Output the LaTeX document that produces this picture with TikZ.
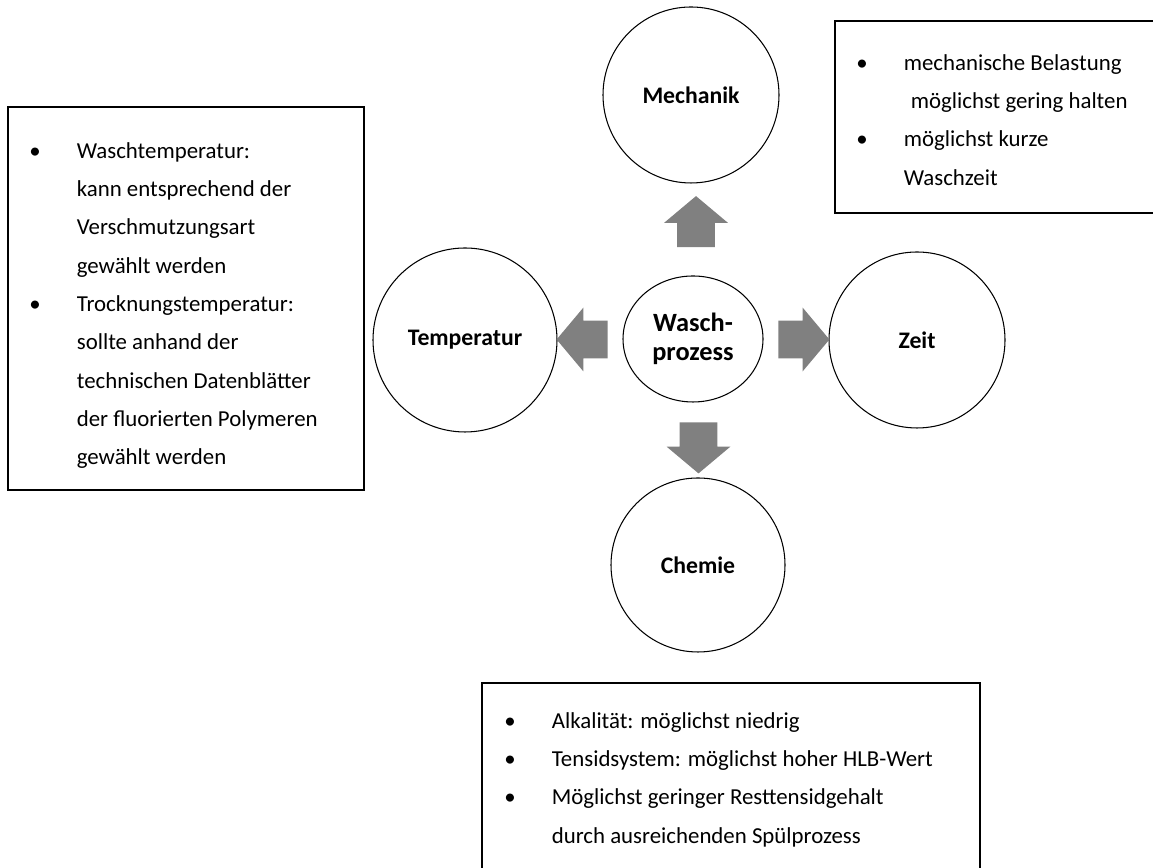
\documentclass[tikz,border=0pt]{standalone}
\usepackage{fontspec}
\setmainfont{Carlito}
\usetikzlibrary{shapes.geometric,shapes.arrows,calc}

\definecolor{pfeilgrau}{RGB}{128,128,128}

\tikzset{
  faktor/.style={circle,draw,line width=0.6pt,inner sep=0pt,font=\fontsize{13.5}{16}\selectfont\bfseries},
  pfeil/.style={single arrow,fill=pfeilgrau,draw=none,inner xsep=0pt,inner ysep=0.37cm,minimum height=1.02cm,minimum width=1.26cm,single arrow head extend=0.26cm,single arrow tip angle=100},
  infobox/.style={draw,line width=0.9pt},
  infotext/.style={anchor=north west,inner sep=0pt,align=left,font=\fontsize{13}{21.8}\selectfont},
}
\newcommand{\pkt}{\makebox[0.95cm][l]{\textbullet}}
\newcommand{\einr}{\hspace*{0.95cm}}

\begin{document}
\begin{tikzpicture}
  \useasboundingbox (0,0) rectangle (23.06,17.36);
  \node[ellipse,draw,line width=0.6pt,minimum width=2.8cm,minimum height=2.52cm,inner sep=0pt,align=center,font=\fontsize{15}{16.5}\selectfont\bfseries] (wp) at (13.86,10.58) {Wasch-\\prozess};
  \node[faktor,minimum size=3.52cm] (mech) at (13.82,15.46) {Mechanik};
  \node[faktor,minimum size=3.68cm] (temp) at (9.30,10.56) {Temperatur};
  \node[faktor,minimum size=3.52cm] (zeit) at (18.34,10.56) {Zeit};
  \node[faktor,minimum size=3.48cm] (chem) at (13.96,6.06) {Chemie};
  \node[pfeil,rotate=90] (pfmech) at ($(wp.north)!0.5!(mech.south)+(0.08,0)$) {};
  \node[pfeil,rotate=180] (pftemp) at ($(wp.west)!0.5!(temp.east)$) {};
  \node[pfeil] (pfzeit) at ($(wp.east)!0.5!(zeit.west)$) {};
  \node[pfeil,rotate=-90] (pfchem) at ($(wp.south)!0.5!(chem.north)+(0.06,0)$) {};
  \draw[infobox] (0.16,7.56) rectangle (7.28,15.22);
  \draw[infobox] (16.70,13.10) rectangle (23.3,16.94);
  \draw[infobox] (9.64,-0.5) rectangle (19.60,3.70);
  \node[infotext] (txtemp) at (0.58,14.52) {\pkt Waschtemperatur:\\
    \einr kann entsprechend der\\
    \einr Verschmutzungsart\\
    \einr gewählt werden\\
    \pkt Trocknungstemperatur:\\
    \einr sollte anhand der\\
    \einr technischen Datenblätter\\
    \einr der fluorierten Polymeren\\
    \einr gewählt werden};
  \node[infotext] (txmech) at (17.12,16.28) {\pkt mechanische Belastung\\
    \hspace*{1.09cm}möglichst gering halten\\
    \pkt möglichst kurze\\
    \einr Waschzeit};
  \node[infotext] (txchem) at (10.08,3.12) {\pkt Alkalität: möglichst niedrig\\
    \pkt Tensidsystem: möglichst hoher HLB-Wert\\
    \pkt Möglichst geringer Resttensidgehalt\\
    \einr durch ausreichenden Spülprozess};
\end{tikzpicture}
\end{document}
